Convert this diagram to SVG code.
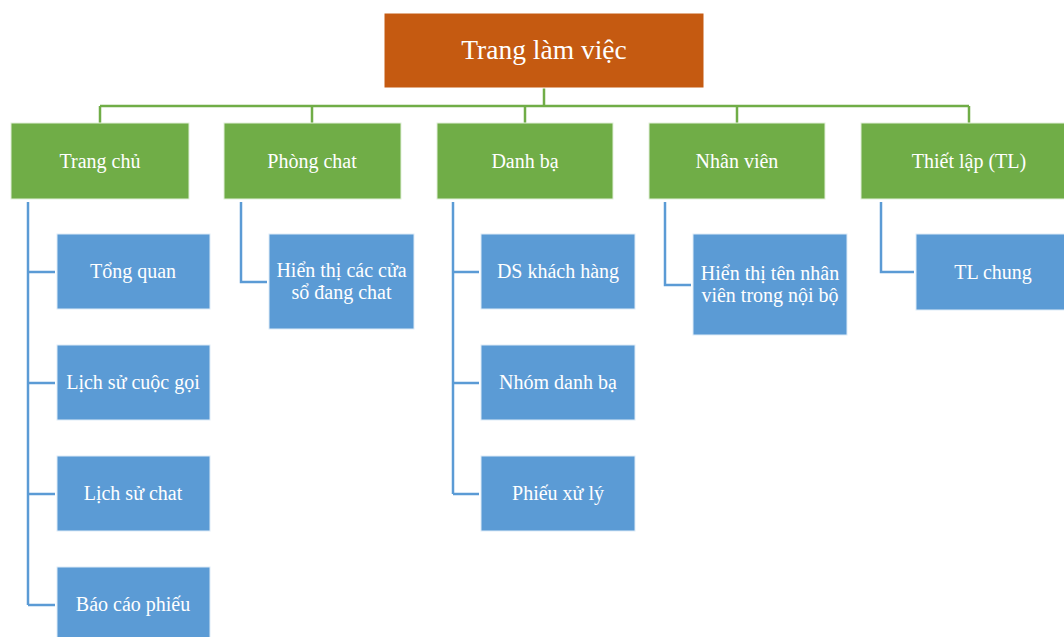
<svg xmlns="http://www.w3.org/2000/svg" width="1064" height="637" viewBox="0 0 1064 637">
<style>
.root{fill:#C55A11;stroke:#ffffff;stroke-width:1}
.l1{fill:#70AD47;stroke:#E2F0D9;stroke-width:1}
.l2{fill:#5B9BD5;stroke:#DEEBF7;stroke-width:1}
text{font-family:"Liberation Serif","Times New Roman",serif;fill:#ffffff;text-anchor:middle}
.t0{font-size:27.5px}
.t1{font-size:20px}
.g{fill:none;stroke:#70AD47;stroke-width:2.5}
.b{fill:none;stroke:#5B9BD5;stroke-width:2.5}
</style>
<rect width="1064" height="637" fill="#ffffff"/>
<g id="connectors">
<path class="g" d="M544 88V106M100 106H969M100 106V123M312 106V123M525 106V123M737 106V123M969 106V123"/>
<path class="b" d="M28 202V605M28 272H55M28 383H55M28 494H55M28 605H55"/>
<path class="b" d="M241 202V282H267"/>
<path class="b" d="M453 202V494M453 272H479M453 383H479M453 494H479"/>
<path class="b" d="M665 202V285H691"/>
<path class="b" d="M881 202V272H914"/>
</g>
<g id="trang-lam-viec"><rect class="root" x="384" y="13" width="320" height="75"/><text class="t0" x="544" y="59">Trang làm việc</text></g>
<g id="trang-chu"><rect class="l1" x="11" y="123" width="178" height="76"/><text class="t1" x="100" y="168">Trang chủ</text></g>
<g id="phong-chat"><rect class="l1" x="224" y="123" width="177" height="76"/><text class="t1" x="312" y="168">Phòng chat</text></g>
<g id="danh-ba"><rect class="l1" x="437" y="123" width="176" height="76"/><text class="t1" x="525" y="168">Danh bạ</text></g>
<g id="nhan-vien"><rect class="l1" x="649" y="123" width="176" height="76"/><text class="t1" x="737" y="168">Nhân viên</text></g>
<g id="thiet-lap"><rect class="l1" x="861" y="123" width="216" height="76"/><text class="t1" x="969" y="168">Thiết lập (TL)</text></g>
<g id="tong-quan"><rect class="l2" x="57" y="234" width="153" height="75"/><text class="t1" x="133" y="278">Tổng quan</text></g>
<g id="lich-su-cuoc-goi"><rect class="l2" x="57" y="345" width="153" height="75"/><text class="t1" x="133" y="389">Lịch sử cuộc gọi</text></g>
<g id="lich-su-chat"><rect class="l2" x="57" y="456" width="153" height="75"/><text class="t1" x="133" y="500">Lịch sử chat</text></g>
<g id="bao-cao-phieu"><rect class="l2" x="57" y="567" width="153" height="75"/><text class="t1" x="133" y="611">Báo cáo phiếu</text></g>
<g id="hien-thi-cua-so"><rect class="l2" x="269" y="234" width="145" height="95"/><text class="t1" x="341.5" y="277">Hiển thị các cửa</text><text class="t1" x="341.5" y="299">sổ đang chat</text></g>
<g id="ds-khach-hang"><rect class="l2" x="481" y="234" width="154" height="75"/><text class="t1" x="558" y="278">DS khách hàng</text></g>
<g id="nhom-danh-ba"><rect class="l2" x="481" y="345" width="154" height="75"/><text class="t1" x="558" y="389">Nhóm danh bạ</text></g>
<g id="phieu-xu-ly"><rect class="l2" x="481" y="456" width="154" height="75"/><text class="t1" x="558" y="500">Phiếu xử lý</text></g>
<g id="hien-thi-nhan-vien"><rect class="l2" x="693" y="234" width="154" height="101"/><text class="t1" x="770" y="280">Hiển thị tên nhân</text><text class="t1" x="770" y="302">viên trong nội bộ</text></g>
<g id="tl-chung"><rect class="l2" x="916" y="234" width="154" height="76"/><text class="t1" x="993" y="279">TL chung</text></g>
</svg>
